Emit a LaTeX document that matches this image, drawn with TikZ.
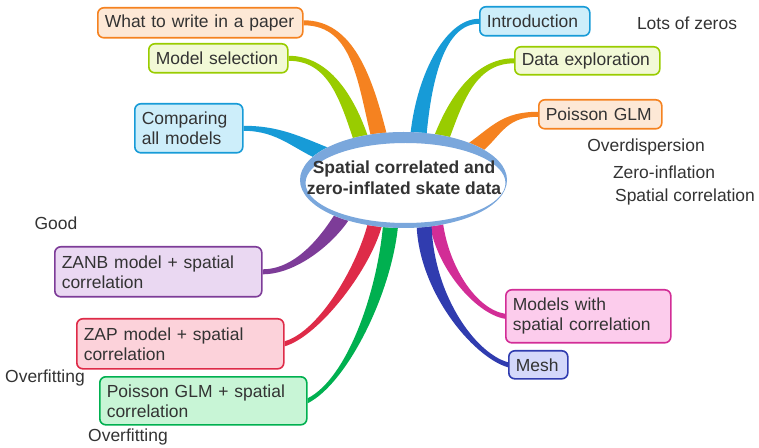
\documentclass[tikz,border=0pt]{standalone}
\usepackage{fontspec}
\setmainfont{Liberation Sans}
\usetikzlibrary{calc,backgrounds}

\definecolor{ink}{RGB}{51,51,51}
\definecolor{ring}{RGB}{122,167,220}
\definecolor{cOrange}{RGB}{245,130,32}  \definecolor{fOrange}{RGB}{253,232,214}
\definecolor{cLime}{RGB}{153,204,0}     \definecolor{fLime}{RGB}{242,249,214}
\definecolor{cBlue}{RGB}{23,155,215}    \definecolor{fBlue}{RGB}{205,238,250}
\definecolor{cPurple}{RGB}{125,60,152}  \definecolor{fPurple}{RGB}{234,216,242}
\definecolor{cRed}{RGB}{222,43,72}      \definecolor{fRed}{RGB}{252,210,218}
\definecolor{cGreen}{RGB}{0,176,80}     \definecolor{fGreen}{RGB}{200,245,214}
\definecolor{cMagenta}{RGB}{210,45,150} \definecolor{fMagenta}{RGB}{252,204,236}
\definecolor{cNavy}{RGB}{48,60,175}     \definecolor{fNavy}{RGB}{212,216,250}

% tapered branch: colour, tip, tip handle, base handle, base, half width at base
\newcommand{\twig}[6]{%
  \fill[#1] ($(#2)+(0,2.5)$) .. controls +(#3) and +(#4) .. ($(#5)+(#6)$)
    -- ($(#5)-(#6)$) .. controls +(#4) and +(#3) .. ($(#2)-(0,2.5)$) -- cycle;}

\begin{document}
\begin{tikzpicture}[x=0.75pt,y=-0.75pt,
 every node/.style={font=\fontsize{13.1}{15}\selectfont},
 topic/.style={draw,rounded corners=4.5pt,line width=1.2pt,anchor=north west,align=left,
   inner xsep=5.25pt,inner ysep=1pt,text=ink},
 note/.style={text=ink,inner sep=0pt,text height=9.5pt,text depth=2.8pt}]
\useasboundingbox (0,0) rectangle (759,448);
\coordinate (hubc) at (403.5,180);
% topics
\node[topic,draw=cOrange,fill=fOrange,text width=143.25pt,minimum height=22.5pt] (paper) at (97,7) {What to write in a paper};
\node[topic,draw=cLime,fill=fLime,text width=93.75pt,minimum height=21.75pt] (select) at (148,43) {Model selection};
\node[topic,draw=cBlue,fill=fBlue,text width=70.5pt,minimum height=36.75pt] (compare) at (134,103) {Comparing\\all models};
\node[topic,draw=cBlue,fill=fBlue,text width=72pt,minimum height=21.75pt] (intro) at (479,6) {Introduction};
\node[topic,draw=cLime,fill=fLime,text width=98.25pt,minimum height=21pt] (explore) at (514,46) {Data exploration};
\node[topic,draw=cOrange,fill=fOrange,text width=81.75pt,minimum height=21.75pt] (glm) at (538,99) {Poisson GLM};
\node[topic,draw=cPurple,fill=fPurple,text width=144.75pt,minimum height=37.5pt] (zanb) at (54,246) {ZANB model + spatial\\correlation};
\node[topic,draw=cRed,fill=fRed,text width=144.75pt,minimum height=37.5pt] (zap) at (76,318) {ZAP model + spatial\\correlation};
\node[topic,draw=cGreen,fill=fGreen,text width=144.75pt,minimum height=36pt] (glmsp) at (99,376) {Poisson GLM + spatial\\correlation};
\node[topic,draw=cMagenta,fill=fMagenta,text width=113.25pt,minimum height=39.75pt] (spatial) at (505,289) {Models with\\spatial correlation};
\node[topic,draw=cNavy,fill=fNavy,text width=33.75pt,minimum height=21pt] (mesh) at (508,350) {Mesh};
% branch feet under the ring
\coordinate (paper-b) at ($(hubc)+(-23.5,-40)$);
\coordinate (select-b) at ($(hubc)+(-41.5,-38)$);
\coordinate (compare-b) at ($(hubc)+(-77,-25)$);
\coordinate (intro-b) at ($(hubc)+(14.5,-40)$);
\coordinate (explore-b) at ($(hubc)+(36.5,-38)$);
\coordinate (glm-b) at ($(hubc)+(68.5,-30)$);
\coordinate (zanb-b) at ($(hubc)+(-58.5,32)$);
\coordinate (zap-b) at ($(hubc)+(-27.5,40)$);
\coordinate (glmsp-b) at ($(hubc)+(-12.5,40)$);
\coordinate (spatial-b) at ($(hubc)+(32.5,40)$);
\coordinate (mesh-b) at ($(hubc)+(20.5,40)$);
\begin{pgfonlayer}{background}
\twig{cOrange}{paper.east}{50,0}{-15,-60}{paper-b}{-7.5,3}
\twig{cLime}{select.east}{40,0}{-15,-45}{select-b}{-7,2.5}
\twig{cBlue}{compare.east}{35,0}{-30,-12}{compare-b}{-2.5,7}
\twig{cBlue}{intro.west}{-35,0}{5,-60}{intro-b}{8,1}
\twig{cLime}{explore.west}{-40,0}{15,-40}{explore-b}{7,3}
\twig{cOrange}{glm.west}{-35,0}{25,-18}{glm-b}{4.5,6}
\twig{cPurple}{zanb.east}{35,0}{-15,25}{zanb-b}{6,4.5}
\twig{cRed}{zap.east}{35,-10}{-10,45}{zap-b}{7,1.5}
\twig{cGreen}{glmsp.east}{40,-20}{-5,70}{glmsp-b}{7.5,0.5}
\twig{cMagenta}{spatial.west}{-30,-5}{5,45}{spatial-b}{-6.5,0.8}
\twig{cNavy}{mesh.west}{-35,-10}{0,70}{mesh-b}{-7.5,0}
\end{pgfonlayer}
% hub
\fill[white] (hubc) ellipse [x radius=103.5,y radius=48];
\fill[ring,even odd rule] (hubc) ellipse [x radius=103.5,y radius=48]
  ($(hubc)+(2,3)$) ellipse [x radius=100,y radius=40];
\node[font=\fontsize{13.1}{15.75}\selectfont\bfseries,text=ink,align=center] (hub) at (404,178) {Spatial correlated and\\zero-inflated skate data};
% remarks
\node[note] (zeros) at (687,25) {Lots of zeros};
\node[note] (overdisp) at (646,147) {Overdispersion};
\node[note] (zeroinf) at (664,174) {Zero-inflation};
\node[note] (spcorr) at (685,197) {Spatial correlation};
\node[note] (good) at (56,225) {Good};
\node[note] (overfit1) at (45,378) {Overfitting};
\node[note] (overfit2) at (128,437) {Overfitting};
\end{tikzpicture}
\end{document}
